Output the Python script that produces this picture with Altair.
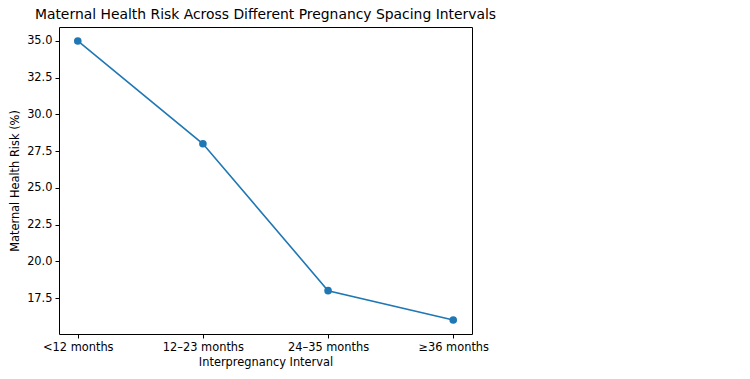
import altair as alt
import pandas as pd

intervals = ["<12 months", "12–23 months", "24–35 months", "≥36 months"]
risk = [35.0, 28.0, 18.0, 16.0]

df = pd.DataFrame({"interval": intervals, "risk": risk})

font = "DejaVu Sans"
blue = "#1f77b4"

x = alt.X(
    "interval:O",
    sort=intervals,
    title="Interpregnancy Interval",
    scale=alt.Scale(type="point", padding=0.15),
    axis=alt.Axis(labelAngle=0, tickSize=4, labelPadding=3, titlePadding=4,
                  domain=False, grid=False),
)
y = alt.Y(
    "risk:Q",
    title="Maternal Health Risk (%)",
    scale=alt.Scale(domain=[15.05, 35.95], nice=False, zero=False),
    axis=alt.Axis(values=[17.5, 20.0, 22.5, 25.0, 27.5, 30.0, 32.5, 35.0],
                  format=".1f", tickSize=4, labelPadding=3, titlePadding=6,
                  domain=False, grid=False),
)

base = alt.Chart(df)
line = base.mark_line(color=blue, strokeWidth=1.6).encode(x=x, y=y)
pts = base.mark_circle(color=blue, size=58, opacity=1).encode(x=x, y=y)

chart = (
    alt.layer(line, pts)
    .properties(
        width=413,
        height=307,
        title=alt.TitleParams(
            "Maternal Health Risk Across Different Pregnancy Spacing Intervals",
            font=font, fontSize=13.9, fontWeight="normal", color="#000000",
            anchor="middle", offset=5,
        ),
        autosize=alt.AutoSizeParams(type="none"),
        padding={"left": 59, "top": 27, "right": 278, "bottom": 45},
    )
    .configure_view(stroke="#000000", strokeWidth=1)
    .configure_axis(
        labelFont=font, labelFontSize=11.4, labelColor="#000000",
        titleFont=font, titleFontSize=11.4, titleColor="#000000",
        titleFontWeight="normal", tickColor="#000000",
    )
)

chart.save("out.html", embed_options={"renderer": "svg", "actions": False})
